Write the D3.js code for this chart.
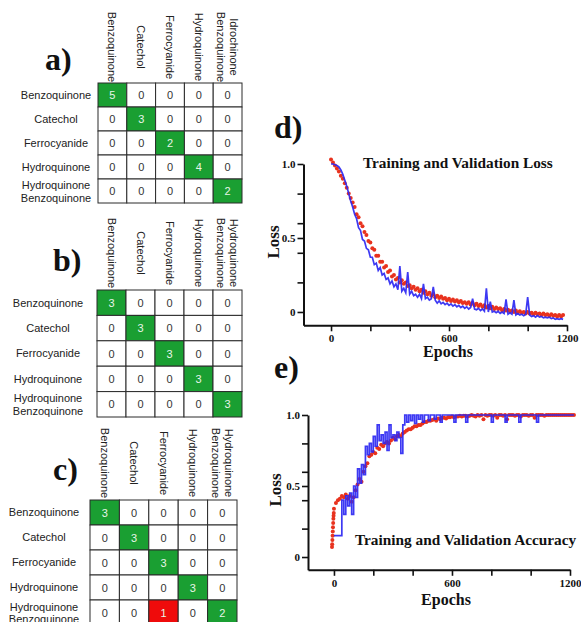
<!DOCTYPE html>
<html>
<head>
<meta charset="utf-8">
<script src="https://cdn.jsdelivr.net/npm/d3@7"></script>
<style>
  body { margin: 0; background: #fff; }
  svg { display: block; }
</style>
</head>
<body>
<svg id="fig" width="581" height="622"></svg>
<script>
// confusion matrix labels
const rowLabels = ["Benzoquinone", "Catechol", "Ferrocyanide", "Hydroquinone", "Hydroquinone\nBenzoquinone"];
const colLabelsA = ["Benzoquinone", "Catechol", "Ferrocyanide", "Hydroquinone", "Idrochinone\nBenzoquinone"];
const colLabelsBC = ["Benzoquinone", "Catechol", "Ferrocyanide", "Hydroquinone", "Hydroquinone\nBenzoquinone"];

const matrixA = [
  [5, 0, 0, 0, 0],
  [0, 3, 0, 0, 0],
  [0, 0, 2, 0, 0],
  [0, 0, 0, 4, 0],
  [0, 0, 0, 0, 2],
];
const matrixB = [
  [3, 0, 0, 0, 0],
  [0, 3, 0, 0, 0],
  [0, 0, 3, 0, 0],
  [0, 0, 0, 3, 0],
  [0, 0, 0, 0, 3],
];
const matrixC = [
  [3, 0, 0, 0, 0],
  [0, 3, 0, 0, 0],
  [0, 0, 3, 0, 0],
  [0, 0, 0, 3, 0],
  [0, 0, 1, 0, 2],
];

// training curves, one value every 10 epochs
const lossEpochs = d3.range(0, 1190, 10);
const lossTrain = [
  1.03, 1.01, 0.99, 0.97, 0.95, 0.92, 0.90, 0.87, 0.84, 0.80,
  0.77, 0.74, 0.71, 0.66, 0.64, 0.60, 0.58, 0.54, 0.52, 0.48,
  0.47, 0.43, 0.42, 0.38, 0.38, 0.34, 0.34, 0.30, 0.31, 0.27,
  0.28, 0.24, 0.25, 0.22, 0.23, 0.20, 0.215, 0.19, 0.20, 0.175,
  0.18, 0.16, 0.17, 0.15, 0.16, 0.14, 0.15, 0.13, 0.14, 0.12,
  0.13, 0.11, 0.12, 0.10, 0.11, 0.095, 0.105, 0.09, 0.095, 0.08,
  0.09, 0.075, 0.085, 0.07, 0.08, 0.065, 0.075, 0.06, 0.065, 0.055,
  0.065, 0.05, 0.06, 0.045, 0.055, 0.04, 0.05, 0.035, 0.045, 0.03,
  0.04, 0.025, 0.035, 0.02, 0.03, 0.02, 0.025, 0.01, 0.02, 0.01,
  0.015, 0.005, 0.01, 0.0, 0.01, -0.005, 0.005, -0.005, 0.0, -0.01,
  0.0, -0.01, -0.005, -0.015, -0.005, -0.015, -0.01, -0.02, -0.01, -0.02,
  -0.015, -0.025, -0.015, -0.025, -0.02, -0.03, -0.02, -0.03, -0.02,
];
const lossVal = [
  1.00, 1.00, 0.995, 0.99, 0.98, 0.96, 0.93, 0.89, 0.85, 0.80,
  0.75, 0.71, 0.66, 0.63, 0.57, 0.55, 0.49, 0.48, 0.43, 0.42,
  0.37, 0.37, 0.32, 0.33, 0.28, 0.30, 0.25, 0.26, 0.22, 0.23,
  0.19, 0.21, 0.17, 0.19, 0.15, 0.31, 0.14, 0.16, 0.13, 0.27,
  0.12, 0.14, 0.11, 0.12, 0.10, 0.12, 0.09, 0.19, 0.09, 0.10,
  0.08, 0.09, 0.17, 0.08, 0.06, 0.075, 0.055, 0.065, 0.05, 0.06,
  0.045, 0.055, 0.04, 0.05, 0.035, 0.045, 0.03, 0.04, 0.025, 0.035,
  0.02, 0.03, 0.09, 0.02, 0.015, 0.025, 0.01, 0.02, 0.005, 0.16,
  0.0, 0.07, 0.0, 0.005, -0.005, 0.005, -0.01, 0.0, -0.01, 0.085,
  -0.015, -0.005, -0.015, 0.08, -0.02, -0.01, -0.02, -0.015, -0.025, -0.015,
  0.10, -0.02, -0.03, -0.025, -0.035, -0.025, -0.035, -0.03, -0.04, -0.035,
  -0.04, -0.035, -0.045, -0.04, -0.05, -0.045, -0.05, -0.045, -0.05,
];

const accEpochs = d3.range(0, 1230, 10);
const accTrainStartEpochs = [-10, -9, -8, -7, -6, -5, -4, -3, -2, -1];
const accTrainStart = [0.07, 0.09, 0.12, 0.15, 0.18, 0.21, 0.24, 0.27, 0.29, 0.31];
const accTrain = [
  0.34, 0.38, 0.40, 0.41, 0.43, 0.42, 0.44, 0.41, 0.43, 0.39,
  0.42, 0.47, 0.51, 0.55, 0.53, 0.60, 0.64, 0.66, 0.71, 0.72,
  0.74, 0.73, 0.77, 0.76, 0.79, 0.78, 0.80, 0.81, 0.80, 0.82,
  0.84, 0.83, 0.85, 0.86, 0.85, 0.87, 0.88, 0.89, 0.90, 0.90,
  0.91, 0.92, 0.92, 0.93, 0.93, 0.94, 0.95, 0.95, 0.96, 0.96,
  0.965, 0.97, 0.96, 0.975, 0.97, 0.98, 0.98, 0.975, 0.985, 0.985,
  0.99, 0.985, 0.99, 0.99, 0.995, 0.99, 0.995, 0.995, 0.99, 0.995,
  1.0, 0.995, 0.99, 1.0, 0.995, 1.0, 0.97, 1.0, 0.995, 1.0,
  1.0, 0.995, 1.0, 0.98, 1.0, 1.0, 0.995, 1.0, 0.97, 1.0,
  1.0, 1.0, 0.995, 1.0, 1.0, 0.99, 1.0, 1.0, 1.0, 0.995,
  1.0, 1.0, 0.98, 1.0, 1.0, 1.0, 1.0, 0.995, 1.0, 1.0,
  1.0, 1.0, 1.0, 1.0, 1.0, 1.0, 1.0, 1.0, 1.0, 1.0,
  1.0, 1.0, 1.0,
];
const accVal = [
  0.15, 0.15, 0.15, 0.15, 0.40, 0.30, 0.43, 0.36, 0.45, 0.30,
  0.50, 0.42, 0.62, 0.52, 0.65, 0.58, 0.78, 0.72, 0.80, 0.74,
  0.85, 0.78, 0.93, 0.82, 0.86, 0.80, 0.88, 0.75, 0.93, 0.84,
  0.86, 0.82, 0.88, 0.84, 0.73, 0.93, 1.0, 0.95, 1.0, 0.96,
  1.0, 0.94, 1.0, 0.97, 1.0, 0.95, 1.0, 1.0, 0.96, 1.0,
  1.0, 0.97, 1.0, 1.0, 0.95, 1.0, 1.0, 1.0, 1.0, 1.0,
  1.0, 0.95, 1.0, 1.0, 1.0, 1.0, 1.0, 0.95, 1.0, 1.0,
  1.0, 1.0, 1.0, 1.0, 1.0, 1.0, 1.0, 1.0, 1.0, 1.0,
  0.95, 1.0, 1.0, 1.0, 1.0, 1.0, 1.0, 0.95, 1.0, 1.0,
  1.0, 1.0, 1.0, 1.0, 0.95, 1.0, 1.0, 1.0, 1.0, 1.0,
  1.0, 1.0, 1.0, 0.95, 1.0, 1.0, 1.0, 1.0, 1.0, 1.0,
  1.0, 1.0, 1.0, 1.0, 1.0, 1.0, 1.0, 1.0, 1.0, 1.0,
  1.0, 1.0, 1.0,
];

const yTicks = [0, 0.2, 0.4, 0.5, 0.6, 0.8, 1.0];
const yTickLabels = { 0: "0", 0.5: "0.5", 1: "1.0" };
const xTicks = [0, 200, 400, 600, 800, 1000, 1200];
const xTickLabels = { 0: "0", 600: "600", 1200: "1200" };

const SANS = "'Liberation Sans', Arial, sans-serif";
const SERIF = "'Liberation Serif', 'Times New Roman', serif";
const GREEN = "#1a9f32";
const RED_CELL = "#ef0b0b";
const RED = "#e8321e";
const BLUE = "#2d28f2";

const svg = d3.select("#fig");
svg.append("rect").attr("width", 581).attr("height", 622).attr("fill", "#fff");

function panelTag(txt, x, y) {
  svg.append("text")
    .attr("x", x).attr("y", y)
    .attr("font-family", SERIF)
    .attr("font-weight", "bold")
    .attr("font-size", 32)
    .attr("fill", "#111")
    .text(txt);
}

function drawMatrix(cfg, cols, values) {
  const g = svg.append("g");
  const x = d3.scaleBand().domain(d3.range(cols.length)).range([cfg.left, cfg.left + cfg.cw * cols.length]);
  const y = d3.scaleBand().domain(d3.range(rowLabels.length)).range([cfg.top, cfg.top + cfg.ch * rowLabels.length]);

  const cells = [];
  values.forEach((row, i) => row.forEach((v, j) => cells.push({ i, j, v })));

  const fill = (d) => (d.v === 0 ? "#fff" : d.i === d.j ? GREEN : RED_CELL);

  g.selectAll("rect.cell")
    .data(cells)
    .enter()
    .append("rect")
    .attr("x", (d) => x(d.j))
    .attr("y", (d) => y(d.i))
    .attr("width", x.bandwidth())
    .attr("height", y.bandwidth())
    .attr("fill", fill)
    .attr("stroke", "#2a2a2a")
    .attr("stroke-width", 1);

  g.selectAll("text.num")
    .data(cells)
    .enter()
    .append("text")
    .attr("x", (d) => x(d.j) + x.bandwidth() / 2)
    .attr("y", (d) => y(d.i) + y.bandwidth() / 2)
    .attr("text-anchor", "middle")
    .attr("dominant-baseline", "central")
    .attr("font-family", SANS)
    .attr("font-size", 11)
    .attr("fill", (d) => (d.v === 0 ? "#333" : "#e8f5e8"))
    .text((d) => d.v);

  // row labels, centred to the left of the grid
  rowLabels.forEach((lab, i) => {
    const lines = lab.split("\n");
    const t = g.append("text")
      .attr("x", cfg.rowX)
      .attr("y", y(i) + y.bandwidth() / 2)
      .attr("text-anchor", "middle")
      .attr("font-family", SANS)
      .attr("font-size", 11)
      .attr("fill", "#222");
    lines.forEach((ln, k) => {
      t.append("tspan")
        .attr("x", cfg.rowX)
        .attr("dy", k === 0 ? (lines.length === 1 ? "0.35em" : -2) : 12.5)
        .text(ln);
    });
  });

  // column labels, rotated to read downwards
  cols.forEach((lab, j) => {
    const lines = lab.split("\n");
    const cx = x(j) + x.bandwidth() / 2;
    const off = lines.length === 1 ? [0] : [-6.5, 6.5];
    lines.forEach((ln, k) => {
      g.append("text")
        .attr("transform", `translate(${cx},${cfg.colY}) rotate(90)`)
        .attr("y", off[k])
        .attr("text-anchor", "middle")
        .attr("dominant-baseline", "central")
        .attr("font-family", SANS)
        .attr("font-size", 11)
        .attr("fill", "#222")
        .text(ln);
    });
  });
}

panelTag("a)", 45, 70);
drawMatrix({ left: 98, top: 83, cw: 28.8, ch: 24, rowX: 56, colY: 47 }, colLabelsA, matrixA);
panelTag("b)", 53, 271);
drawMatrix({ left: 97, top: 290, cw: 29, ch: 25.4, rowX: 48, colY: 253 }, colLabelsBC, matrixB);
panelTag("c)", 53, 480);
drawMatrix({ left: 90, top: 500, cw: 29.4, ch: 25, rowX: 44, colY: 463 }, colLabelsBC, matrixC);

function drawCurves(cfg) {
  const g = svg.append("g");
  const x = d3.scaleLinear().domain(cfg.xDomain).range(cfg.xRange);
  const y = d3.scaleLinear().domain([-0.09, 1.0]).range(cfg.yRange);

  const yAxis = d3.axisLeft(y)
    .tickValues(yTicks)
    .tickSize(6)
    .tickSizeOuter(0)
    .tickPadding(2)
    .tickFormat((d) => yTickLabels[d] || "");
  const xAxis = d3.axisBottom(x)
    .tickValues(xTicks)
    .tickSize(6)
    .tickSizeOuter(0)
    .tickPadding(3)
    .tickFormat((d) => xTickLabels[d] || "");

  const ya = g.append("g").attr("transform", `translate(${cfg.xRange[0]},0)`).call(yAxis);
  const xa = g.append("g").attr("transform", `translate(0,${cfg.yRange[0]})`).call(xAxis);
  [ya, xa].forEach((a) => {
    a.select(".domain").attr("stroke", "#111").attr("stroke-width", 2);
    a.selectAll(".tick line").attr("stroke", "#111").attr("stroke-width", 1.6);
    a.selectAll(".tick text")
      .attr("font-family", SERIF)
      .attr("font-weight", "bold")
      .attr("font-size", 11)
      .attr("fill", "#111");
  });

  // red: training, dots
  g.append("g")
    .selectAll("circle")
    .data(cfg.train)
    .enter()
    .append("circle")
    .attr("cx", (d) => x(d[0]))
    .attr("cy", (d) => y(d[1]))
    .attr("r", 2)
    .attr("fill", RED);

  // blue: validation, line
  const line = d3.line()
    .x((d) => x(d[0]))
    .y((d) => y(d[1]))
    .curve(cfg.curve);
  g.append("path")
    .datum(cfg.val)
    .attr("d", line)
    .attr("fill", "none")
    .attr("stroke", BLUE)
    .attr("stroke-width", 1.7)
    .attr("stroke-opacity", 0.92);

  g.append("text")
    .attr("x", cfg.titlePos[0]).attr("y", cfg.titlePos[1])
    .attr("font-family", SERIF).attr("font-weight", "bold").attr("font-size", 15.3)
    .attr("fill", "#111")
    .text(cfg.title);

  g.append("text")
    .attr("transform", `translate(${cfg.yLabelPos[0]},${cfg.yLabelPos[1]}) rotate(-90)`)
    .attr("text-anchor", "middle")
    .attr("font-family", SERIF).attr("font-weight", "bold").attr("font-size", 17)
    .attr("fill", "#111")
    .text("Loss");

  g.append("text")
    .attr("x", cfg.xLabelPos[0]).attr("y", cfg.xLabelPos[1])
    .attr("text-anchor", "middle")
    .attr("font-family", SERIF).attr("font-weight", "bold").attr("font-size", 16)
    .attr("fill", "#111")
    .text("Epochs");
}

panelTag("d)", 274, 138);
drawCurves({
  xDomain: [-140, 1200], xRange: [303.5, 567],
  yRange: [325.3, 164],
  train: lossEpochs.map((e, i) => [e, lossTrain[i]]),
  val: lossEpochs.map((e, i) => [e, lossVal[i]]),
  curve: d3.curveLinear,
  title: "Training and Validation Loss", titlePos: [363, 168],
  yLabelPos: [279, 242], xLabelPos: [448, 357],
});

panelTag("e)", 274, 378);
drawCurves({
  xDomain: [-132, 1200], xRange: [308, 570],
  yRange: [569.8, 415],
  train: accTrainStartEpochs.map((e, i) => [e, accTrainStart[i]])
    .concat(accEpochs.map((e, i) => [e, accTrain[i]])),
  val: accEpochs.map((e, i) => [e, accVal[i]]),
  curve: d3.curveStepAfter,
  title: "Training and Validation Accuracy", titlePos: [355, 545],
  yLabelPos: [281, 490], xLabelPos: [446, 605],
});
</script>
</body>
</html>
